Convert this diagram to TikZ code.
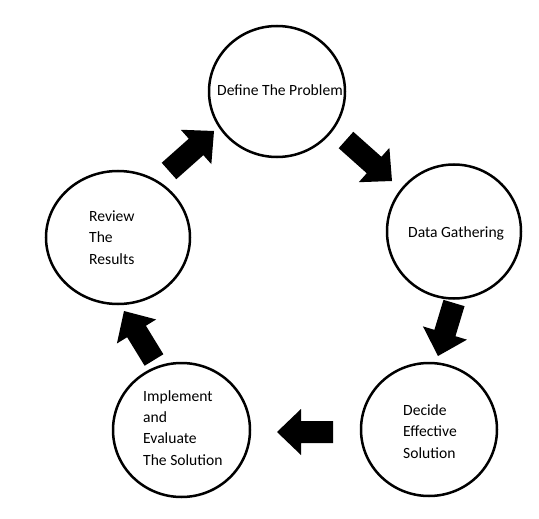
\documentclass[tikz,border=0pt]{standalone}
\usepackage{fontspec}
\setmainfont{Carlito}
\usetikzlibrary{shapes.geometric,calc}
\tikzset{
  stage/.style={draw=black, line width=2.5pt, ellipse, inner sep=0pt, fill=white},
  label/.style={anchor=base west, inner sep=0pt, align=left, font=\fontsize{15.6}{21.2}\selectfont},
}
\newcommand{\blockarr}[2]{%
  \coordinate (bb) at ($(#2)!24pt!(#1)$);
  \fill[black] ($(#1)!11pt!90:(#2)$) -- ($(bb)!11pt!-90:(#1)$) -- ($(bb)!23pt!-90:(#1)$) -- (#2)
    -- ($(bb)!23pt!90:(#1)$) -- ($(bb)!11pt!90:(#1)$) -- ($(#1)!11pt!-90:(#2)$) -- cycle;}
\begin{document}
\begin{tikzpicture}[x=1pt,y=-1pt]
\useasboundingbox (0,0) rectangle (539,519);
\fill[white] (0,0) rectangle (539,519);
% stages
\node[stage, minimum width=136pt, minimum height=131pt] (define) at (277,91.5) {};
\node[stage, minimum width=134pt, minimum height=134pt] (data) at (454,231.5) {};
\node[stage, minimum width=136pt, minimum height=133pt] (decide) at (429,429.5) {};
\node[stage, minimum width=137pt, minimum height=134pt] (impl) at (181.5,430) {};
\node[stage, minimum width=144pt, minimum height=133pt] (review) at (118,237.5) {};
% labels (base = baseline of last line)
\node[label] (tdefine) at (217,96) {Define The Problem};
\node[label] (tdata) at (408,237) {Data Gathering};
\node[label] (tdecide) at (403,458) {Decide\\Effective\\Solution};
\node[label] (timpl) at (143,465) {Implement\\and\\Evaluate\\The Solution};
\node[label] (treview) at (89,264) {Review\\The\\Results};
% arrows
\coordinate (a1t) at (169,171); \coordinate (a1h) at (214,131);
\coordinate (a2t) at (346,140); \coordinate (a2h) at (392,181);
\coordinate (a3t) at (454,303); \coordinate (a3h) at (438,356);
\coordinate (a4t) at (333,432); \coordinate (a4h) at (277,432);
\coordinate (a5t) at (154,360); \coordinate (a5h) at (124,311);
\blockarr{a1t}{a1h}
\blockarr{a2t}{a2h}
\blockarr{a3t}{a3h}
\blockarr{a4t}{a4h}
\blockarr{a5t}{a5h}
\end{tikzpicture}
\end{document}
